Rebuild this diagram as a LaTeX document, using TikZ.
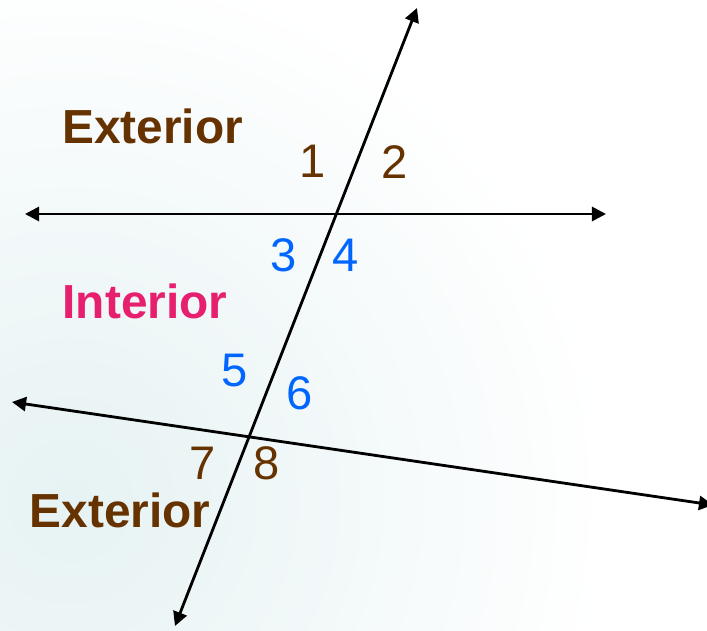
\documentclass[tikz,border=0pt]{standalone}
\usepackage{fontspec}
\setmainfont{Liberation Sans}
\usetikzlibrary{arrows.meta}
\definecolor{extbrown}{RGB}{102,51,0}
\definecolor{angblue}{RGB}{0,102,255}
\definecolor{intpink}{RGB}{230,32,110}
\definecolor{bgcyan}{RGB}{230,242,243}

\begin{document}
\begin{tikzpicture}[
    x=0.025cm, y=-0.025cm,
    region/.style={inner sep=0pt, font=\fontsize{34}{40}\selectfont\bfseries},
    num/.style={inner sep=0pt, font=\fontsize{33.5}{40}\selectfont},
    arr/.style={arrows={Triangle[length=10pt, width=10pt]-Triangle[length=10pt, width=10pt]},
                line width=2pt, color=black}
]
\useasboundingbox (0,0) rectangle (707,630);

% pale background
\begin{scope}
\clip (0,0) rectangle (707,630);
\fill[white] (0,0) rectangle (707,630);
\shade[inner color=bgcyan, outer color=white] (70,500) circle (540);
\end{scope}

% end points of the three lines
\coordinate (top1) at (25,214);
\coordinate (top2) at (606,214);
\coordinate (bot1) at (12,402);
\coordinate (bot2) at (713,505);
\coordinate (tr1) at (417,8);
\coordinate (tr2) at (175,626);

\draw[arr] (top1) -- (top2);
\draw[arr] (bot1) -- (bot2);
\draw[arr] (tr1) -- (tr2);

% region labels
\node[region, text=extbrown] (ext_top) at (152.5,126) {Exterior};
\node[region, text=intpink]  (int)     at (145,301.5) {Interior};
\node[region, text=extbrown] (ext_bot) at (120,510.5) {Exterior};

% angle numbers
\node[num, text=extbrown] (n1) at (313,161.5) {1};
\node[num, text=extbrown] (n2) at (395,162) {2};
\node[num, text=angblue]  (n3) at (283.5,255) {3};
\node[num, text=angblue]  (n4) at (346,255) {4};
\node[num, text=angblue]  (n5) at (235,371) {5};
\node[num, text=angblue]  (n6) at (299.5,393.5) {6};
\node[num, text=extbrown] (n7) at (202.5,463.5) {7};
\node[num, text=extbrown] (n8) at (266.5,463.5) {8};

\end{tikzpicture}
\end{document}
